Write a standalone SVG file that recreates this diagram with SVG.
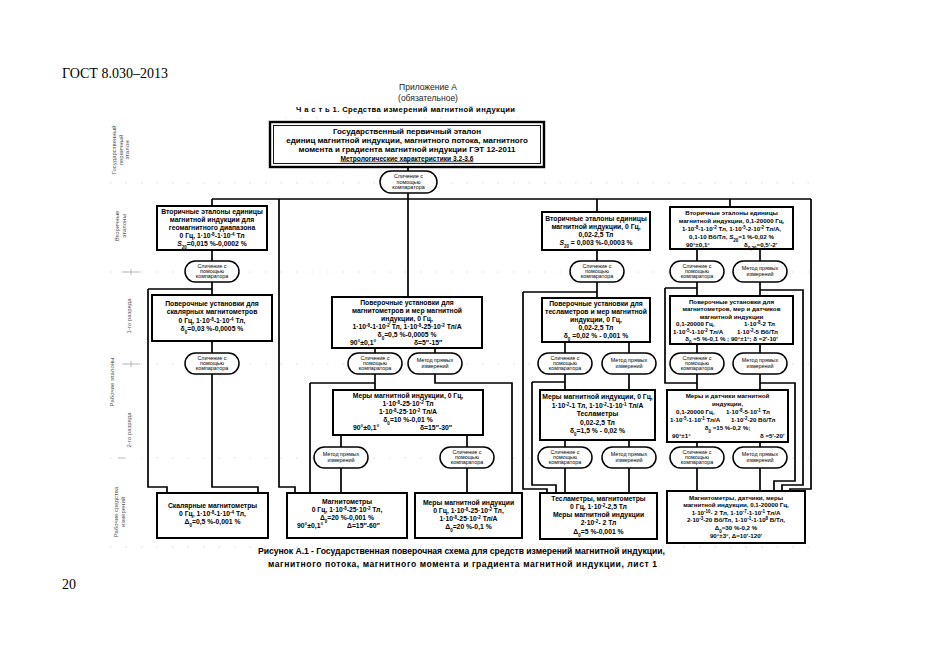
<svg xmlns="http://www.w3.org/2000/svg" width="935" height="661" viewBox="0 0 935 661">
<style>
.bx{fill:#fff;stroke:#000;stroke-width:2}
.ov{fill:#fff;stroke:#000;stroke-width:1.5}
.ln{fill:none;stroke:#000;stroke-width:1.7}
.sep{fill:none;stroke:#cfcfcf;stroke-width:0.8;stroke-dasharray:1.5 14}
.tick{fill:none;stroke:#999;stroke-width:0.7}
.t{font-family:'Liberation Sans',Arial,sans-serif;font-weight:bold;font-size:6.8px;text-anchor:middle;fill:#000}
.e{font-size:6.2px}
.o{font-family:'Liberation Sans',Arial,sans-serif;font-size:5.4px;text-anchor:middle;fill:#000}
.lab{font-family:'Liberation Sans',Arial,sans-serif;font-size:6px;text-anchor:middle;fill:#555}
.s{font-size:4.5px;baseline-shift:super}
.b{font-size:4.5px;baseline-shift:sub}
.st{text-anchor:start}
.hd{font-family:'Liberation Sans',Arial,sans-serif;fill:#222;text-anchor:middle}
</style>
<rect width="935" height="661" fill="#fff"/>

<g id="page">
<text x="62" y="78" style="font-family:'Liberation Serif','Times New Roman',serif;font-size:14px">ГОСТ 8.030–2013</text>
<text x="62" y="589" style="font-family:'Liberation Serif','Times New Roman',serif;font-size:14px">20</text>
<text class="hd" x="428" y="90" style="font-size:8.5px">Приложение А</text>
<text class="hd" x="428" y="100.5" style="font-size:8.5px">(обязательное)</text>
<text class="hd" x="405.5" y="112" textLength="219" lengthAdjust="spacing" style="font-size:7.6px;font-weight:bold;fill:#000">Ч а с т ь 1. Средства измерений магнитной индукции</text>
<text class="hd" x="461.5" y="554" textLength="407" lengthAdjust="spacing" style="font-size:8.6px;font-weight:bold;fill:#000">Рисунок А.1 - Государственная поверочная схема для средств измерений магнитной индукции,</text>
<text class="hd" x="462.5" y="567" textLength="389" lengthAdjust="spacing" style="font-size:8.6px;font-weight:bold;fill:#000">магнитного потока, магнитного момента и градиента магнитной индукции, лист 1</text>
</g>

<g id="separators">
<path class="sep" d="M285,118H520M110,183H820M110,272H820M110,364H820M110,458H820M110,547H820"/>
<path class="tick" d="M122,272H140M131,269V275M122,364H140M131,361V367M118,458H125"/>
</g>

<g id="row-labels">
<g transform="translate(121,150) rotate(-90)">
<text class="lab" x="0" y="-5">Государственный</text>
<text class="lab" x="0" y="1.5">первичный</text>
<text class="lab" x="0" y="8">эталон</text>
</g>
<g transform="translate(121,226) rotate(-90)">
<text class="lab" x="0" y="-2">Вторичные</text>
<text class="lab" x="0" y="4.5">эталоны</text>
</g>
<text class="lab" transform="translate(131,316) rotate(-90)">1-го разряда</text>
<text class="lab" transform="translate(114,382) rotate(-90)">Рабочие эталоны</text>
<text class="lab" transform="translate(131,430) rotate(-90)">2-го разряда</text>
<g transform="translate(120,512) rotate(-90)">
<text class="lab" x="0" y="-2">Рабочие средства</text>
<text class="lab" x="0" y="4.5">измерений</text>
</g>
</g>

<g id="connectors">
<path class="ln" d="M408,167V171M408,193V199M212,199H811M212,199V206M279,199V487H295V493M408,199V297M597,199V212M730,199V207M811,199V489H790V493"/>
<path class="ln" d="M212,250V261M212,282V295M148,289H212M148,289V487H167V493M212,341V353M212,374V487H258V493"/>
<path class="ln" d="M375,348V353M435,348V353M375,374V390M310,383H375M310,383V493M435,374V383H512V493M341,435V447M467,435V447M341,468V493M467,468V493"/>
<path class="ln" d="M597,250V261M597,282V298M523,292H597M523,292V489H547V493M565,342V353M629,342V353M565,374V390M532,382H565M532,382V485H556V493M629,374V390M565,440V447M629,440V447M565,468V493M629,468V493"/>
<path class="ln" d="M697,249V261M760,249V261M697,282V296M760,282V296M665,288H697M665,288V383H697M760,290H803V485H782V493M697,344V353M760,344V353M697,374V390M760,374V390M760,383H795V481H774V493M697,442V447M760,442V447M697,468V491M760,468V491"/>
</g>

<g id="gosudarstvenny-etalon">
<rect x="270" y="122" width="274" height="45" fill="#fff" stroke="#000" stroke-width="2.4"/>
<rect x="273.5" y="125.5" width="267" height="38" fill="none" stroke="#000" stroke-width="0.9"/>
<text class="t" x="407" y="133.5" style="font-size:8px">Государственный первичный эталон</text>
<text class="t" x="407" y="142.5" style="font-size:8px">единиц магнитной индукции, магнитного потока, магнитного</text>
<text class="t" x="407" y="151.5" style="font-size:8px">момента и градиента магнитной индукции ГЭТ 12-2011</text>
<text class="t" x="407" y="160.5" style="font-size:6.6px;text-decoration:underline">Метрологические характеристики 3.2-3.6</text>
</g>

<g id="ov-top"><rect class="ov" x="380" y="171" width="57" height="22" rx="11"/>
<text class="o" x="408.5" y="178">Сличение с</text><text class="o" x="408.5" y="183.5">помощью</text><text class="o" x="408.5" y="189">компаратора</text></g>

<g id="A1"><rect class="bx" x="157" y="206" width="110" height="44"/>
<text class="t" x="212" y="213.5">Вторичные эталоны единицы</text>
<text class="t" x="212" y="221.5">магнитной индукции для</text>
<text class="t" x="212" y="229.5">геомагнитного диапазона</text>
<text class="t" x="212" y="237.5">0 Гц, 1·10<tspan class="s">-8</tspan>-1·10<tspan class="s">-4</tspan> Тл</text>
<text class="t" x="212" y="245.5"><tspan font-style="italic">S</tspan><tspan class="b">20</tspan>=0,015 %-0,0002 %</text></g>

<g id="ov-A1"><rect class="ov" x="185" y="261" width="54" height="21" rx="10.5"/>
<text class="o" x="212" y="268">Сличение с</text><text class="o" x="212" y="273.2">помощью</text><text class="o" x="212" y="278.4">компаратора</text></g>

<g id="A2"><rect class="bx" x="152" y="295" width="120" height="46"/>
<text class="t" x="212" y="305.5">Поверочные установки для</text>
<text class="t" x="212" y="314">скалярных магнитометров</text>
<text class="t" x="212" y="322.5">0 Гц, 1·10<tspan class="s">-8</tspan>-1·10<tspan class="s">-4</tspan> Тл,</text>
<text class="t" x="212" y="331">δ<tspan class="b">0</tspan>=0,03 %-0,0005 %</text></g>

<g id="ov-A2"><rect class="ov" x="185" y="353" width="54" height="21" rx="10.5"/>
<text class="o" x="212" y="360">Сличение с</text><text class="o" x="212" y="365.2">помощью</text><text class="o" x="212" y="370.4">компаратора</text></g>

<g id="C1"><rect class="bx" x="332" y="297" width="150" height="51"/>
<text class="t" x="407" y="304.5">Поверочные установки для</text>
<text class="t" x="407" y="312.5">магнитометров и мер магнитной</text>
<text class="t" x="407" y="320.5">индукции, 0 Гц,</text>
<text class="t" x="407" y="328.5">1·10<tspan class="s">-8</tspan>-1·10<tspan class="s">-2</tspan> Тл, 1·10<tspan class="s">-8</tspan>-25·10<tspan class="s">-2</tspan> Тл/А</text>
<text class="t" x="407" y="336.5">δ<tspan class="b">0</tspan>=0,5 %-0,0005 %</text>
<text class="t st" x="350" y="344.5">90°±0,1°</text><text class="t st" x="414" y="344.5">δ=5″-15″</text></g>

<g id="ov-C1-l"><rect class="ov" x="348" y="353" width="54" height="21" rx="10.5"/>
<text class="o" x="375" y="360">Сличение с</text><text class="o" x="375" y="365.2">помощью</text><text class="o" x="375" y="370.4">компаратора</text></g>
<g id="ov-C1-r"><rect class="ov" x="408" y="353" width="54" height="21" rx="10.5"/>
<text class="o" x="435" y="362">Метод прямых</text><text class="o" x="435" y="368">измерений</text></g>

<g id="C2"><rect class="bx" x="333" y="390" width="150" height="45"/>
<text class="t" x="408" y="397.5">Меры магнитной индукции, 0 Гц,</text>
<text class="t" x="408" y="405.5">1·10<tspan class="s">-8</tspan>-25·10<tspan class="s">-2</tspan> Тл</text>
<text class="t" x="408" y="413.5">1·10<tspan class="s">-8</tspan>-25·10<tspan class="s">-2</tspan> Тл/А</text>
<text class="t" x="408" y="421.5">δ<tspan class="b">0</tspan>=10 %-0,01 %</text>
<text class="t st" x="353" y="430">90°±0,1°</text><text class="t st" x="420" y="430">δ=15″-30″</text></g>

<g id="ov-C2-l"><rect class="ov" x="314" y="447" width="54" height="21" rx="10.5"/>
<text class="o" x="341" y="456">Метод прямых</text><text class="o" x="341" y="462">измерений</text></g>
<g id="ov-C2-r"><rect class="ov" x="440" y="447" width="54" height="21" rx="10.5"/>
<text class="o" x="467" y="454">Сличение с</text><text class="o" x="467" y="459.2">помощью</text><text class="o" x="467" y="464.4">компаратора</text></g>

<g id="D1"><rect class="bx" x="542" y="212" width="108" height="38"/>
<text class="t" x="596" y="220.5">Вторичные эталоны единицы</text>
<text class="t" x="596" y="228.5">магнитной индукции, 0 Гц,</text>
<text class="t" x="596" y="236.5">0,02-2,5 Тл</text>
<text class="t" x="596" y="245"><tspan font-style="italic">S</tspan><tspan class="b">20</tspan> = 0,003 %-0,0003 %</text></g>

<g id="ov-D1"><rect class="ov" x="570" y="261" width="54" height="21" rx="10.5"/>
<text class="o" x="597" y="268">Сличение с</text><text class="o" x="597" y="273.2">помощью</text><text class="o" x="597" y="278.4">компаратора</text></g>

<g id="D2"><rect class="bx" x="542" y="298" width="108" height="44"/>
<text class="t" x="596" y="305.5">Поверочные установки для</text>
<text class="t" x="596" y="313.5">тесламетров и мер магнитной</text>
<text class="t" x="596" y="321.5">индукции, 0 Гц,</text>
<text class="t" x="596" y="329.5">0,02-2,5 Тл</text>
<text class="t" x="596" y="337.5">δ<tspan class="b">0</tspan> =0,02 % - 0,001 %</text></g>

<g id="ov-D2-l"><rect class="ov" x="538" y="353" width="54" height="21" rx="10.5"/>
<text class="o" x="565" y="360">Сличение с</text><text class="o" x="565" y="365.2">помощью</text><text class="o" x="565" y="370.4">компаратора</text></g>
<g id="ov-D2-r"><rect class="ov" x="602" y="353" width="54" height="21" rx="10.5"/>
<text class="o" x="629" y="362">Метод прямых</text><text class="o" x="629" y="368">измерений</text></g>

<g id="D3"><rect class="bx" x="540" y="390" width="115" height="50"/>
<text class="t" x="597.5" y="399">Меры магнитной индукции, 0 Гц,</text>
<text class="t" x="597.5" y="407.5">1·10<tspan class="s">-2</tspan>-1 Тл, 1·10<tspan class="s">-2</tspan>-1·10<tspan class="s">-1</tspan> Тл/А</text>
<text class="t" x="597.5" y="416">Тесламетры</text>
<text class="t" x="597.5" y="424.5">0,02-2,5 Тл</text>
<text class="t" x="597.5" y="433">δ<tspan class="b">0</tspan>=1,5 % - 0,02 %</text></g>

<g id="ov-D3-l"><rect class="ov" x="538" y="447" width="54" height="21" rx="10.5"/>
<text class="o" x="565" y="454">Сличение с</text><text class="o" x="565" y="459.2">помощью</text><text class="o" x="565" y="464.4">компаратора</text></g>
<g id="ov-D3-r"><rect class="ov" x="602" y="447" width="54" height="21" rx="10.5"/>
<text class="o" x="629" y="456">Метод прямых</text><text class="o" x="629" y="462">измерений</text></g>

<g id="E1"><rect class="bx" x="670" y="207" width="123" height="42"/>
<text class="t e" x="731.5" y="214.5">Вторичные эталоны единицы</text>
<text class="t e" x="731.5" y="222.5">магнитной индукции, 0,1-20000 Гц,</text>
<text class="t e" x="731.5" y="230.5">1·10<tspan class="s">-8</tspan>-1·10<tspan class="s">-2</tspan> Тл, 1·10<tspan class="s">-5</tspan>-2·10<tspan class="s">-2</tspan> Тл/А,</text>
<text class="t e" x="731.5" y="238.5">0,1-10 Вб/Тл,   <tspan font-style="italic">S</tspan><tspan class="b">20</tspan>=1 %-0,02 %</text>
<text class="t e st" x="686" y="246.5">90°±0,1°</text><text class="t e st" x="744" y="246.5">δ<tspan class="b">0,20</tspan>=0,5′-2′</text></g>

<g id="ov-E1-l"><rect class="ov" x="670" y="261" width="54" height="21" rx="10.5"/>
<text class="o" x="697" y="268">Сличение с</text><text class="o" x="697" y="273.2">помощью</text><text class="o" x="697" y="278.4">компаратора</text></g>
<g id="ov-E1-r"><rect class="ov" x="733" y="261" width="54" height="21" rx="10.5"/>
<text class="o" x="760" y="270">Метод прямых</text><text class="o" x="760" y="276">измерений</text></g>

<g id="E2"><rect class="bx" x="670" y="296" width="123" height="48"/>
<text class="t e" x="731.5" y="303.5">Поверочные установки для</text>
<text class="t e" x="731.5" y="311">магнитометров, мер и датчиков</text>
<text class="t e" x="731.5" y="318.5">магнитной индукции</text>
<text class="t e st" x="676" y="326">0,1-20000 Гц,</text><text class="t e st" x="744" y="326">1·10<tspan class="s">-8</tspan>-2 Тл</text>
<text class="t e st" x="673" y="333.5">1·10<tspan class="s">-5</tspan>-1·10<tspan class="s">-2</tspan> Тл/А</text><text class="t e st" x="737" y="333.5">1·10<tspan class="s">-2</tspan>-5 Вб/Тл</text>
<text class="t e" x="731.5" y="341">δ<tspan class="b">0</tspan> =5 %-0,1 % ; 90°±1°; δ =2′-10′</text></g>

<g id="ov-E2-l"><rect class="ov" x="670" y="353" width="54" height="21" rx="10.5"/>
<text class="o" x="697" y="360">Сличение с</text><text class="o" x="697" y="365.2">помощью</text><text class="o" x="697" y="370.4">компаратора</text></g>
<g id="ov-E2-r"><rect class="ov" x="733" y="353" width="54" height="21" rx="10.5"/>
<text class="o" x="760" y="362">Метод прямых</text><text class="o" x="760" y="368">измерений</text></g>

<g id="E3"><rect class="bx" x="667" y="390" width="121" height="52"/>
<text class="t e" x="727.5" y="397.5">Меры и датчики магнитной</text>
<text class="t e" x="727.5" y="405.5">индукции,</text>
<text class="t e st" x="676" y="413.5">0,1-20000 Гц,</text><text class="t e st" x="726" y="413.5">1·10<tspan class="s">-8</tspan>-5·10<tspan class="s">-1</tspan> Тл</text>
<text class="t e st" x="670" y="421.5">1·10<tspan class="s">-5</tspan>-1·10<tspan class="s">-1</tspan> Тл/А</text><text class="t e st" x="731" y="421.5">1·10<tspan class="s">-2</tspan>-20 Вб/Тл</text>
<text class="t e" x="727.5" y="429.5">δ<tspan class="b">0</tspan> =15 %-0,2 %;</text>
<text class="t e st" x="672" y="437.5">90°±1°</text><text class="t e st" x="760" y="437.5">δ =5′-20′</text></g>

<g id="ov-E3-l"><rect class="ov" x="670" y="447" width="54" height="21" rx="10.5"/>
<text class="o" x="697" y="454">Сличение с</text><text class="o" x="697" y="459.2">помощью</text><text class="o" x="697" y="464.4">компаратора</text></g>
<g id="ov-E3-r"><rect class="ov" x="733" y="447" width="54" height="21" rx="10.5"/>
<text class="o" x="760" y="456">Метод прямых</text><text class="o" x="760" y="462">измерений</text></g>

<g id="B1"><rect class="bx" x="157" y="493" width="111" height="45"/>
<text class="t" x="212.5" y="508">Скалярные магнитометры</text>
<text class="t" x="212.5" y="516">0 Гц, 1·10<tspan class="s">-8</tspan>-1·10<tspan class="s">-4</tspan> Тл,</text>
<text class="t" x="212.5" y="524">Δ<tspan class="b">0</tspan>=0,5 %-0,001 %</text></g>

<g id="B2"><rect class="bx" x="287" y="493" width="120" height="45"/>
<text class="t" x="347" y="504">Магнитометры</text>
<text class="t" x="347" y="512">0 Гц, 1·10<tspan class="s">-8</tspan>-25·10<tspan class="s">-2</tspan> Тл,</text>
<text class="t" x="347" y="520">Δ<tspan class="b">0</tspan>=20 %-0,001 %</text>
<text class="t st" x="297" y="528">90°±0,1°</text><text class="t st" x="347" y="528">Δ=15″-60″</text></g>

<g id="B3"><rect class="bx" x="415" y="493" width="107" height="45"/>
<text class="t" x="468.5" y="505">Меры магнитной индукции</text>
<text class="t" x="468.5" y="513">0 Гц, 1·10<tspan class="s">-8</tspan>-25·10<tspan class="s">-2</tspan> Тл,</text>
<text class="t" x="468.5" y="521">1·10<tspan class="s">-8</tspan>-25·10<tspan class="s">-2</tspan> Тл/А</text>
<text class="t" x="468.5" y="529">Δ<tspan class="b">0</tspan>=20 %-0,1 %</text></g>

<g id="B4"><rect class="bx" x="540" y="493" width="117" height="46"/>
<text class="t" x="598.5" y="501">Тесламетры, магнитометры</text>
<text class="t" x="598.5" y="509">0 Гц, 1·10<tspan class="s">-2</tspan>-2,5 Тл</text>
<text class="t" x="598.5" y="517">Меры магнитной индукции</text>
<text class="t" x="598.5" y="525">2·10<tspan class="s">-2</tspan>- 2 Тл</text>
<text class="t" x="598.5" y="533.5">Δ<tspan class="b">0</tspan>=5 %-0,001 %</text></g>

<g id="B5"><rect class="bx" x="667" y="491" width="138" height="52"/>
<text class="t e" x="736" y="499.5">Магнитометры, датчики, меры</text>
<text class="t e" x="736" y="507">магнитной индукции,   0,1-20000 Гц,</text>
<text class="t e" x="736" y="514.5">1·10<tspan class="s">-10</tspan>- 2 Тл, 1·10<tspan class="s">-7</tspan>-1·10<tspan class="s">-1</tspan> Тл/А</text>
<text class="t e" x="736" y="522">2·10<tspan class="s">-3</tspan>-20 Вб/Тл,  1·10<tspan class="s">-1</tspan>-1·10<tspan class="s">8</tspan> В/Тл,</text>
<text class="t e" x="736" y="529.5">Δ<tspan class="b">0</tspan>=30 %-0,2 %</text>
<text class="t e" x="736" y="537.5">90°±3°,     Δ=10′-120′</text></g>
</svg>
